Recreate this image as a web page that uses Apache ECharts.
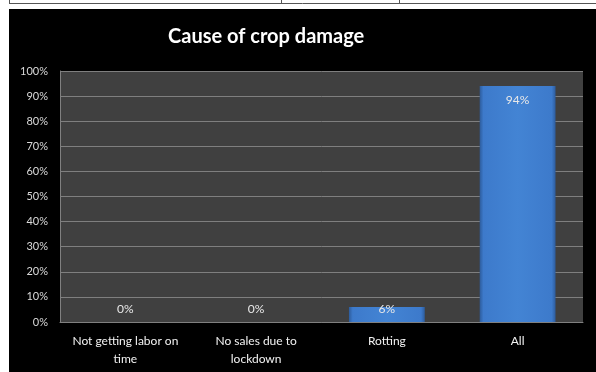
<!DOCTYPE html>
<html>
<head>
<meta charset="utf-8">
<script src="https://cdn.jsdelivr.net/npm/echarts@6/dist/echarts.min.js"></script>
<style>
html,body{margin:0;padding:0;background:#fff;}
#chart{width:596px;height:372px;}
</style>
</head>
<body>
<div id="chart"></div>
<script>
const categories = ['Not getting labor on\ntime', 'No sales due to\nlockdown', 'Rotting', 'All'];
const values = [0, 0, 6, 94];
const yTicks = [0, 10, 20, 30, 40, 50, 60, 70, 80, 90, 100];
const titleText = 'Cause of crop damage';

const chart = echarts.init(document.getElementById('chart'), null, {renderer: 'canvas'});

const barColor = {
  type: 'linear', x: 0, y: 0, x2: 1, y2: 0,
  colorStops: [
    {offset: 0, color: '#2d5c9c'},
    {offset: 0.05, color: '#3d7acb'},
    {offset: 0.5, color: '#4384d4'},
    {offset: 0.95, color: '#3d7acb'},
    {offset: 1, color: '#2d5c9c'}
  ]
};

const data = values.map(v => ({
  value: v,
  label: v < 10
    ? {position: 'insideBottom', distance: 7}
    : {position: 'insideTop', distance: 8}
}));

chart.setOption({
  backgroundColor: '#ffffff',
  animation: false,
  graphic: [
    {type: 'rect', shape: {x: 9, y: 9, width: 587, height: 363}, style: {fill: '#000000'}, z: -10, silent: true},
    {type: 'line', shape: {x1: 9, y1: 3.5, x2: 596, y2: 3.5}, style: {stroke: '#555555', lineWidth: 1}, silent: true},
    {type: 'line', shape: {x1: 9.5, y1: 0, x2: 9.5, y2: 4}, style: {stroke: '#555555', lineWidth: 1}, silent: true},
    {type: 'line', shape: {x1: 281.5, y1: 0, x2: 281.5, y2: 4}, style: {stroke: '#555555', lineWidth: 1}, silent: true},
    {type: 'line', shape: {x1: 399.5, y1: 0, x2: 399.5, y2: 4}, style: {stroke: '#555555', lineWidth: 1}, silent: true}
  ],
  title: {
    text: titleText,
    left: 163,
    top: 22,
    textStyle: {color: '#ffffff', fontFamily: 'Lato', fontWeight: 'bold', fontSize: 20}
  },
  grid: {left: 60, right: 13, top: 71, bottom: 50, show: true, backgroundColor: '#404040', borderWidth: 0},
  xAxis: {
    type: 'category',
    data: categories,
    axisLine: {show: true, lineStyle: {color: '#808080', width: 1}},
    axisTick: {show: false},
    axisLabel: {color: '#f2f2f2', fontFamily: 'Lato', fontSize: 12, margin: 10, lineHeight: 18, interval: 0}
  },
  yAxis: {
    type: 'value',
    min: 0, max: 100, interval: 10,
    axisLine: {show: true, lineStyle: {color: '#808080', width: 1}},
    axisTick: {show: false},
    splitLine: {show: true, lineStyle: {color: '#7f7f7f', width: 1}},
    axisLabel: {
      color: '#d9d9d9', fontFamily: 'Lato', fontSize: 11, margin: 12,
      formatter: v => yTicks.includes(v) ? v + '%' : ''
    }
  },
  series: [{
    type: 'bar',
    data: data,
    barWidth: '58%',
    itemStyle: {color: barColor, borderWidth: 0},
    label: {show: true, color: '#e8e8e8', fontFamily: 'Lato', fontSize: 12, formatter: p => p.value + '%'}
  }]
});
</script>
</body>
</html>
